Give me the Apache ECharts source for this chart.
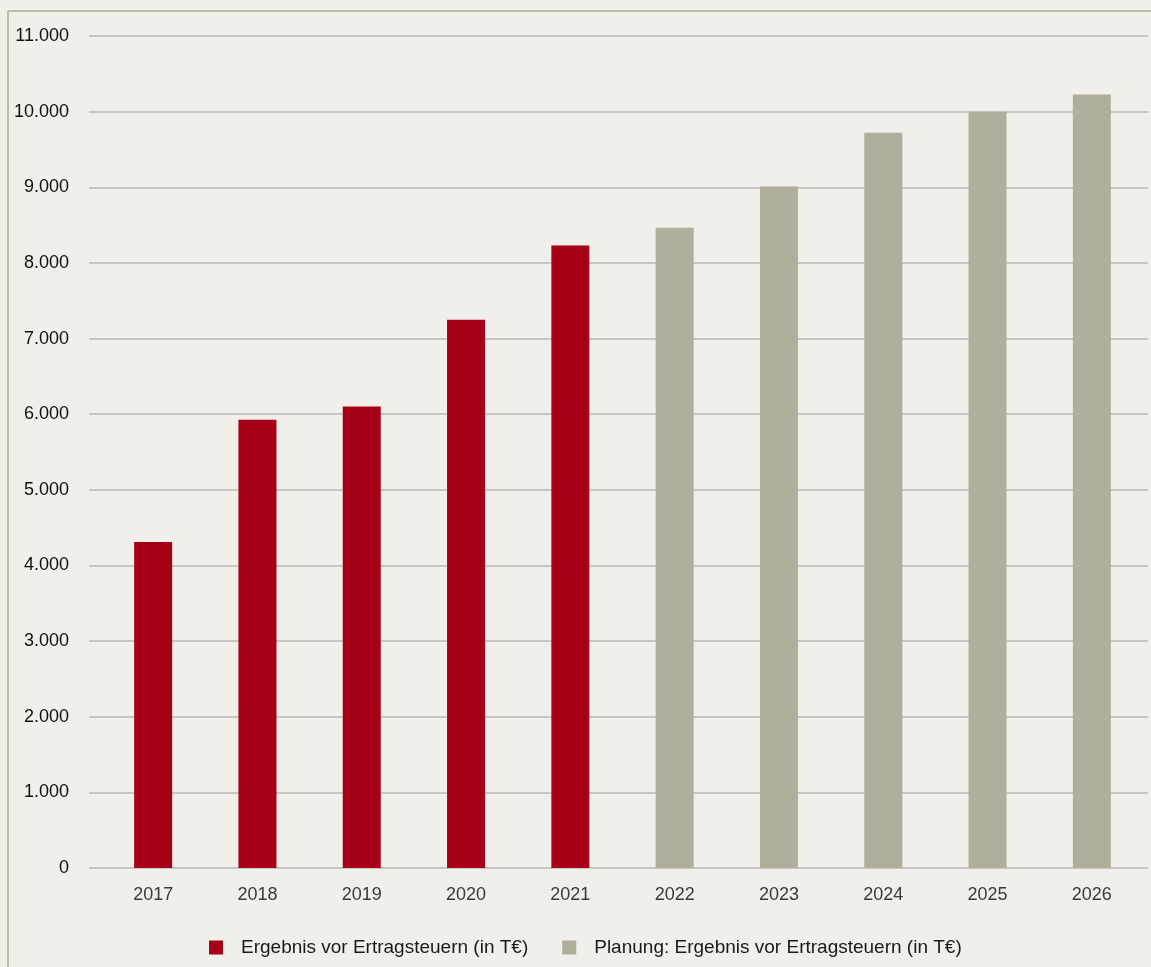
<!DOCTYPE html>
<html><head><meta charset="utf-8">
<script src="https://cdn.jsdelivr.net/npm/echarts@6/dist/echarts.min.js"></script>
<style>html,body{margin:0;padding:0;background:#f0efea;}#c{width:1151px;height:967px;}</style>
</head><body><div id="c"></div>
<script>
const years = ['2017','2018','2019','2020','2021','2022','2023','2024','2025','2026'];
const actualValues = [4310, 5925, 6100, 7250, 8230, null, null, null, null, null];
const planValues = [null, null, null, null, null, 8465, 9010, 9720, 10000, 10225];
const yTicks = [0, 1000, 2000, 3000, 4000, 5000, 6000, 7000, 8000, 9000, 10000, 11000];
const seriesNames = ['Ergebnis vor Ertragsteuern (in T€)', 'Planung: Ergebnis vor Ertragsteuern (in T€)'];

const fmt = v => v === 0 ? '0' : String(v).replace(/\B(?=(\d{3})+(?!\d))/g, '.');
const chart = echarts.init(document.getElementById('c'));
const FONT = '"Liberation Sans", Arial, sans-serif';
chart.setOption({
  backgroundColor: '#f0efea',
  animation: false,
  textStyle: { fontFamily: FONT },
  graphic: [
    { type: 'line', shape: { x1: 8, y1: 11, x2: 1151, y2: 11 }, style: { stroke: '#bcbcaa', lineWidth: 2 } },
    { type: 'line', shape: { x1: 8, y1: 11, x2: 8, y2: 967 }, style: { stroke: '#bcbcaa', lineWidth: 2 } }
  ],
  grid: [
    { left: 89, right: 3, top: 36, bottom: 99 },
    { left: 101, right: 7, top: 36, bottom: 99 }
  ],
  xAxis: [
    { type: 'category', gridIndex: 0, data: years, show: false },
    { type: 'category', gridIndex: 1, data: years,
      axisLine: { show: false }, axisTick: { show: false },
      axisLabel: { color: '#3a3a3a', fontSize: 18, margin: 18, fontFamily: FONT } }
  ],
  yAxis: [
    { type: 'value', gridIndex: 0, min: yTicks[0], max: yTicks[yTicks.length - 1], interval: 1000,
      axisLine: { show: false }, axisTick: { show: false },
      splitLine: { lineStyle: { color: '#b9b9b4', width: 1.5 } },
      axisLabel: { color: '#111111', fontSize: 18, margin: 20, formatter: fmt, fontFamily: FONT } },
    { type: 'value', gridIndex: 1, min: yTicks[0], max: yTicks[yTicks.length - 1], interval: 1000, show: false,
      splitLine: { show: false } }
  ],
  legend: {
    left: 209, top: 938, padding: 0, itemWidth: 14, itemHeight: 14, itemGap: 34, icon: 'rect',
    textStyle: { fontSize: 19, color: '#1a1a1a', padding: [0, 0, 0, 13], fontFamily: FONT },
    data: seriesNames
  },
  series: [
    { name: seriesNames[0], type: 'bar', xAxisIndex: 1, yAxisIndex: 1, data: actualValues, barWidth: 38, barGap: '-100%',
      itemStyle: { color: '#a50016' } },
    { name: seriesNames[1], type: 'bar', xAxisIndex: 1, yAxisIndex: 1, data: planValues, barWidth: 38, barGap: '-100%',
      itemStyle: { color: '#b1af9b' } }
  ]
});
</script></body></html>
